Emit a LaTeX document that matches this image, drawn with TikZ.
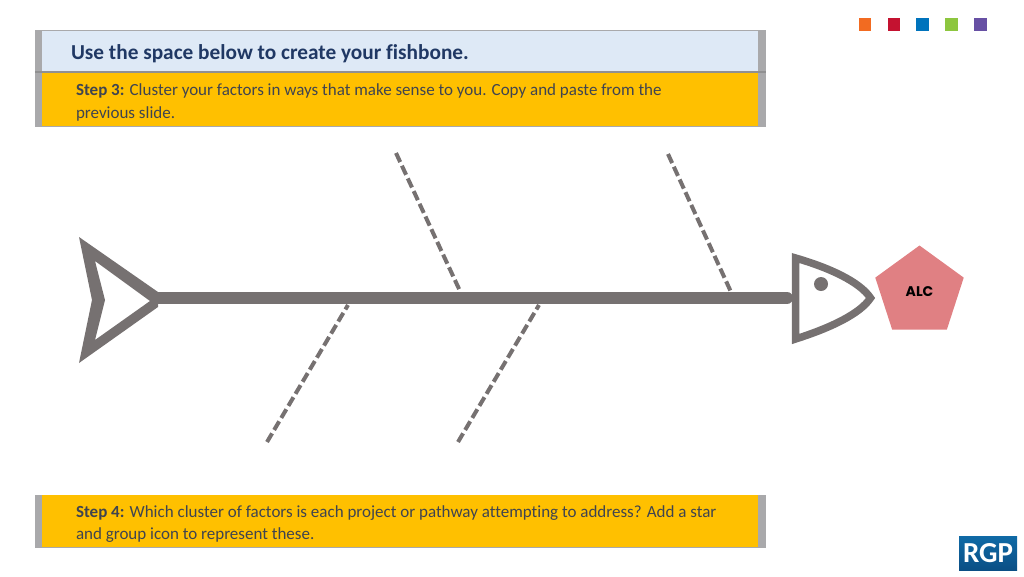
\documentclass[tikz,border=0pt]{standalone}
\usepackage{fontspec}
\setmainfont{Carlito}[Ligatures=NoCommon]
\newfontfamily\alcfont{Poppins}
\usetikzlibrary{positioning,shapes.geometric}
\definecolor{fishgray}{HTML}{767171}
\definecolor{stripgray}{HTML}{A9A9AB}
\definecolor{headblue}{HTML}{DEE9F6}
\definecolor{stepyellow}{HTML}{FFC000}
\definecolor{navy}{HTML}{203864}
\definecolor{steptextcol}{HTML}{3F4450}
\definecolor{alcred}{HTML}{E08083}
\definecolor{rgptop}{HTML}{0F6AA6}
\definecolor{rgpbottom}{HTML}{0B4F85}
\begin{document}
\begin{tikzpicture}[x=1pt,y=-1pt]
 	\tikzstyle{back}=[rectangle, inner sep=0pt, fill=stripgray, minimum width=731pt]
 	\tikzstyle{band}=[rectangle, inner sep=0pt, minimum width=716pt]
 	\tikzstyle{steptext}=[inner sep=0pt, align=left, text=steptextcol, font=\fontsize{17pt}{22.8pt}\selectfont]
 	\tikzstyle{bone}=[line width=4pt, fishgray, dash pattern=on 10pt off 4pt]
 	\tikzstyle{spine}=[line width=12pt, fishgray, line cap=round]
 	\tikzstyle{swatch}=[rectangle, inner sep=0pt, minimum size=12.5pt]
 	\useasboundingbox (0,0) rectangle (1024,576);
 	\node[back, minimum height=97pt] (backtop) at (400.5,78.5) {};
 	\node[band, fill=headblue, minimum height=41pt] (header) at (400,51.5) {};
 	\node[band, fill=stepyellow, minimum height=53pt] (stepthree) at (400,99.5) {};
 	\draw[stripgray!85!black, line width=1.5pt] (backtop.west |- header.south) -- (backtop.east |- header.south);
 	\node[back, minimum height=53pt] (backfour) at (400.5,521.5) {};
 	\node[band, fill=stepyellow, minimum height=52pt] (stepfour) at (400,521) {};
 	\node[inner sep=0pt, text=navy, right=29pt of header.west, yshift=-2pt, font=\fontsize{21.3pt}{23pt}\selectfont\bfseries] (title) {Use the space below to create your fishbone.};
 	\node[steptext, right=34pt of stepthree.west, yshift=-3pt] (stepthreetext) {\textbf{Step 3:} Cluster your factors in ways that make sense to you. Copy and paste from the\\previous slide.};
 	\node[steptext, right=34pt of stepfour.west, yshift=-3pt] (stepfourtext) {\textbf{Step 4:} Which cluster of factors is each project or pathway attempting to address? Add a star\\and group icon to represent these.};
 	\node[swatch, fill={rgb,255:red,242;green,107;blue,33}] (orange) at (865.2,24.5) {};
 	\node[swatch, fill={rgb,255:red,196;green,18;blue,48}] (red) at (894,24.5) {};
 	\node[swatch, fill={rgb,255:red,0;green,115;blue,188}] (blue) at (922.7,24.5) {};
 	\node[swatch, fill={rgb,255:red,141;green,198;blue,63}] (green) at (951.5,24.5) {};
 	\node[swatch, fill={rgb,255:red,103;green,80;blue,164}] (purple) at (980.5,24.5) {};
 	% fish
 	\coordinate (tailend) at (157,298);
 	\coordinate (headend) at (787,298);
 	\coordinate (boneatop) at (396,153);
 	\coordinate (boneaend) at (460,291);
 	\coordinate (bonebtop) at (668,154);
 	\coordinate (bonebend) at (731,292);
 	\coordinate (bonectop) at (267,442);
 	\coordinate (bonecend) at (348,305);
 	\coordinate (bonedtop) at (458,442);
 	\coordinate (bonedend) at (539,305);
 	\path (tailend) edge [spine] (headend)
 	(boneatop) edge [bone] (boneaend)
 	(bonebtop) edge [bone] (bonebend)
 	(bonectop) edge [bone] (bonecend)
 	(bonedtop) edge [bone] (bonedend);
 	\fill[fishgray, even odd rule] (79,237) -- (158,292) -- (158,307) -- (79,363) -- (92,300) -- cycle
 	(95,261) -- (105,300) -- (95,340) -- (150,301) -- cycle;
 	\draw[fishgray, line width=7.5pt, miter limit=10] (795.5,258) .. controls (830,268) and (860,282) .. (870.5,298)
 	.. controls (860,314) and (830,328) .. (795.5,339) -- cycle;
 	\fill[fishgray] (821,284) circle (7);
 	\node[regular polygon, regular polygon sides=5, minimum size=93pt, inner sep=0pt, fill=alcred] (alc) at (919.5,292) {};
 	\node[inner sep=0pt, font=\alcfont\fontsize{14pt}{16pt}\selectfont\bfseries, text=black] (alctext) at (919.5,291.5) {ALC};
 	\node[rectangle, inner sep=0pt, minimum width=58pt, minimum height=34pt, top color=rgptop, bottom color=rgpbottom, text=white, font=\fontsize{29pt}{29pt}\selectfont\bfseries] (rgp) at (988,553) {RGP};
\end{tikzpicture}
\end{document}
